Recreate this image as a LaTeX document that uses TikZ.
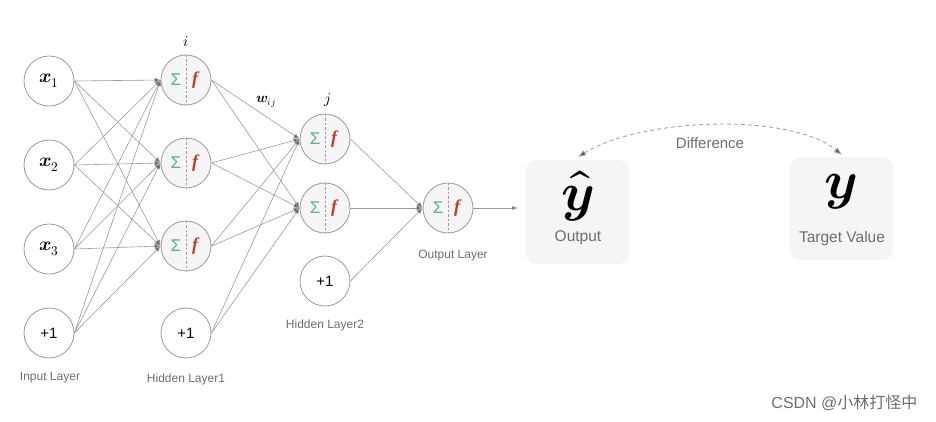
\documentclass[tikz,border=0pt]{standalone}
\usepackage{fontspec}
\usepackage{unicode-math}
\setmainfont{Liberation Sans}
\setmathfont{Latin Modern Math}
\newfontfamily\serfont{Liberation Serif}
\newfontfamily\cjk{Noto Sans CJK SC}
\usetikzlibrary{arrows.meta}
\definecolor{lin}{HTML}{9A9A9A}
\definecolor{tip}{HTML}{5E5E5E}
\definecolor{lbl}{HTML}{6E6E6E}
\definecolor{sig}{HTML}{5BAE8E}
\definecolor{fred}{HTML}{C0392B}
\definecolor{boxbg}{HTML}{F5F5F5}
\tikzset{
  inp/.style={circle,draw=lin,line width=0.8pt,fill=white,minimum size=50pt,inner sep=0pt},
  neur/.style={circle,draw=lin,line width=0.8pt,fill=boxbg,minimum size=50pt,inner sep=0pt},
  divider/.style={draw=lin,dashed,dash pattern=on 2.5pt off 2pt,line width=0.6pt},
  conn/.style={draw=lin,line width=0.6pt,-{Latex[length=6pt,width=5pt,fill=tip]}},
  layerlbl/.style={text=lbl,font=\fontsize{12}{14}\selectfont},
  resbox/.style={draw=none,fill=boxbg,rounded corners=10pt},
  sigtxt/.style={text=sig,font=\fontsize{17}{19}\selectfont,inner sep=0pt},
  ftxt/.style={text=fred,font=\serfont\bfseries\itshape\fontsize{18}{20}\selectfont,inner sep=0pt},
  mathlbl/.style={font=\fontsize{19}{21}\selectfont},
}
\newcommand\neurnode[3]{%
  \node[neur] (#1) at (#2,#3) {};
  \draw[divider] (#1.north) -- (#1.south);
  \node[sigtxt] (#1s) at ([xshift=-10pt]#1.center) {Σ};
  \node[ftxt] (#1f) at ([xshift=9pt]#1.center) {f};
}
\begin{document}
\begin{tikzpicture}[x=1pt,y=-1pt]
\useasboundingbox (0,0) rectangle (936,421);
% input layer
\node[inp,mathlbl] (x1) at (49,81) {$\symbfit{x}_1$};
\node[inp,mathlbl] (x2) at (49,165) {$\symbfit{x}_2$};
\node[inp,mathlbl] (x3) at (49,249) {$\symbfit{x}_3$};
\node[inp] (b0) at (49,333) {\fontsize{15}{17}\selectfont +1};
% hidden layer 1
\neurnode{h1}{186}{80}
\neurnode{h2}{186}{163}
\neurnode{h3}{186}{246}
\node[inp] (b1) at (186,333) {\fontsize{15}{17}\selectfont +1};
% hidden layer 2
\neurnode{g1}{325}{139}
\neurnode{g2}{325}{208}
\node[inp] (b2) at (325,281) {\fontsize{15}{17}\selectfont +1};
% output
\neurnode{o}{448}{208}
% connections
\foreach \s in {x1,x2,x3,b0}{\foreach \t in {h1,h2,h3}{\draw[conn] (\s.east) -- (\t.west);}}
\foreach \s in {h1,h2,h3,b1}{\foreach \t in {g1,g2}{\draw[conn] (\s.east) -- (\t.west);}}
\foreach \s in {g1,g2,b2}{\draw[conn] (\s.east) -- (o.west);}
% labels
\node[layerlbl] (lin) at (50,378) {Input Layer};
\node[layerlbl] (lh1) at (186,379) {Hidden Layer1};
\node[layerlbl] (lh2) at (325,325) {Hidden Layer2};
\node[layerlbl] (lo) at (453,256) {Output Layer};
\node[font=\fontsize{15}{17}\selectfont] (li) at (186,42) {$i$};
\node[font=\fontsize{15}{17}\selectfont] (lj) at (328,100) {$j$};
\node[font=\fontsize{14}{16}\selectfont] (lw) at (266,102) {$\symbfit{w}_{ij}$};
% result boxes
\path[resbox] (526,160) rectangle (629,264);
\path[resbox] (790,157) rectangle (893,260);
\coordinate (outtop) at (578,157);
\coordinate (tgttop) at (842,155);
\coordinate (outtip) at (518,208);
\node[font=\fontsize{54}{58}\selectfont,inner sep=0pt] (yhat) at (578,196) {$\widehat{\symbfit{y}}$};
\node[text=lbl,font=\fontsize{15.5}{18}\selectfont] (lout) at (578,238) {Output};
\node[font=\fontsize{54}{58}\selectfont,inner sep=0pt] (ytg) at (841,192) {$\symbfit{y}$};
\node[text=lbl,font=\fontsize{15.5}{18}\selectfont] (ltg) at (842,238) {Target Value};
\draw[draw=lin,line width=0.6pt,-{Latex[length=6pt,width=4pt,fill=tip]}] (o.east) -- (outtip);
\draw[draw=lin,line width=0.8pt,dashed,dash pattern=on 4pt off 3pt,{Latex[length=8pt,width=6pt,fill=tip]}-{Latex[length=8pt,width=6pt,fill=tip]}]
  (outtop) .. controls (640,118) and (790,112) .. (tgttop);
\node[text=lbl,font=\fontsize{15}{18}\selectfont] (ldiff) at (710,143) {Difference};
% watermark
\node[text=lbl,font=\fontsize{16}{18}\selectfont,anchor=east] (wm) at (921,403) {CSDN @{\cjk 小林打怪中}};
\end{tikzpicture}
\end{document}
